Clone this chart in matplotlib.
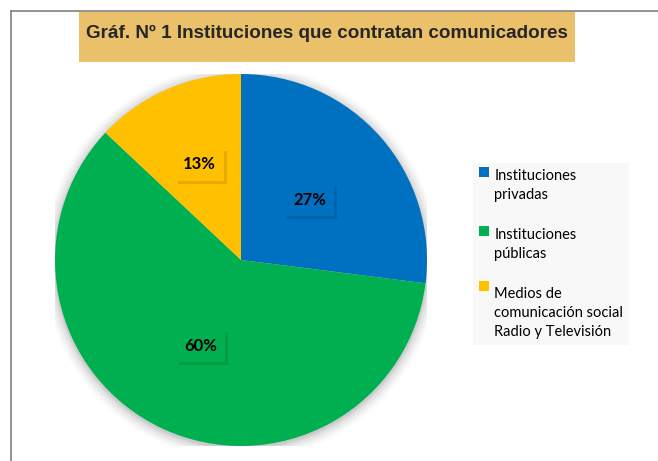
import matplotlib
matplotlib.use("Agg")
import matplotlib.pyplot as plt
import matplotlib.patheffects as pe
import numpy as np
from matplotlib.patches import Rectangle, Circle, Patch

labels = ["Instituciones\nprivadas", "Instituciones\npúblicas",
          "Medios de\ncomunicación social\nRadio y Televisión"]
values = [27, 60, 13]
colors = ["#0070C0", "#00B050", "#FFC000"]
title = "Gráf. Nº 1 Instituciones que contratan comunicadores"

W, H = 658, 461
fig = plt.figure(figsize=(W / 100, H / 100), dpi=100)

# outer frame (left/top visible)
fig.add_artist(plt.Line2D([11 / W, 11 / W], [0, 1 - 11 / H], color="#808080", lw=1.2))
fig.add_artist(plt.Line2D([11 / W, 1], [1 - 11 / H, 1 - 11 / H], color="#808080", lw=1.2))

# title banner
fig.add_artist(Rectangle((79 / W, 1 - 62 / H), 496 / W, 50 / H,
                         transform=fig.transFigure, facecolor="#EBC06A", edgecolor="none"))
fig.text(327 / W, 1 - 33 / H, title, ha="center", va="center", fontsize=13.6,
         fontweight="bold", color="#262626", family="Liberation Sans")

ax = fig.add_axes([55 / W, 15 / H, 372 / W, 372 / H])
# soft shadow behind pie
for r, a in [(1.06, 0.025), (1.045, 0.035), (1.03, 0.045), (1.015, 0.055), (1.005, 0.06)]:
    ax.add_patch(Circle((0.0, -0.01), r, color="black", alpha=a, lw=0))

wedges, texts, autotexts = ax.pie(values, colors=colors, startangle=90, counterclock=False,
                                  autopct="%1.0f%%", pctdistance=0.52,
                                  wedgeprops=dict(linewidth=0))
dists = [0.49, 0.51, 0.56]
for t, c, w, d in zip(autotexts, colors, wedges, dists):
    ang = np.deg2rad((w.theta1 + w.theta2) / 2)
    t.set_position((d * np.cos(ang), d * np.sin(ang)))
    t.set_fontsize(12)
    t.set_fontweight("bold")
    t.set_family("Lato")
    t.set_color("black")
    t.set_bbox(dict(facecolor=c, edgecolor="none", pad=6))
    t.get_bbox_patch().set_path_effects([pe.SimplePatchShadow(offset=(2, -2), alpha=0.15),
                                         pe.Normal()])
ax.set_xlim(-1.0, 1.0)
ax.set_ylim(-1.0, 1.0)
ax.set_aspect("equal")
ax.axis("off")

handles = [Patch(facecolor=c, edgecolor="none") for c in colors]
leg = fig.legend(handles, labels, loc="upper left", bbox_to_anchor=(473 / W, 1 - 163 / H),
                 frameon=True, prop={"family": "Lato", "size": 10.5},
                 handlelength=0.7, handleheight=0.7, handletextpad=0.35,
                 labelspacing=1.8, borderpad=0.4, borderaxespad=0, fancybox=False)
leg.get_frame().set_facecolor("#F7F7F7")
leg.get_frame().set_edgecolor("none")
for t in leg.get_texts():
    t.set_linespacing(1.45)

fig.canvas.draw()
for h, t in zip(leg.legend_handles, leg.get_texts()):
    n = t.get_text().count("\n")
    h.set_y(h.get_y() + n * 10)

fig.savefig("out.png", dpi=100)
